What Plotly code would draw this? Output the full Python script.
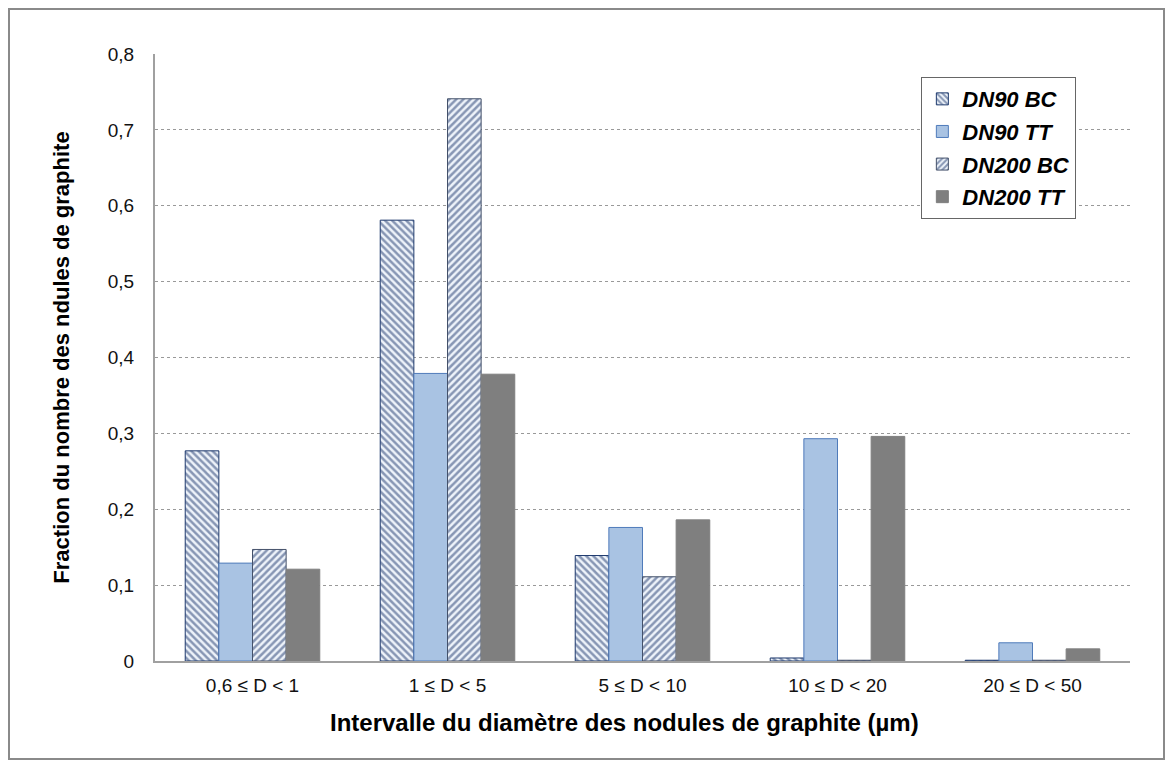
import plotly.graph_objects as go

categories = ["0,6 ≤ D < 1", "1 ≤ D < 5", "5 ≤ D < 10", "10 ≤ D < 20", "20 ≤ D < 50"]
dn90_bc = [0.277, 0.581, 0.139, 0.004, 0.001]
dn90_tt = [0.129, 0.379, 0.176, 0.293, 0.024]
dn200_bc = [0.147, 0.741, 0.111, 0.001, 0.001]
dn200_tt = [0.121, 0.378, 0.186, 0.296, 0.016]
ytick_vals = [0, 0.1, 0.2, 0.3, 0.4, 0.5, 0.6, 0.7, 0.8]
ytick_text = ["0", "0,1", "0,2", "0,3", "0,4", "0,5", "0,6", "0,7", "0,8"]
x_title = "Intervalle du diamètre des nodules de graphite (µm)"
y_title = "Fraction du nombre des ndules de graphite"

navy = "#1F3A6E"
fig = go.Figure()
fig.add_trace(go.Bar(
    x=categories, y=dn90_bc, name="DN90 BC", legendgroup="a",
    marker=dict(color="white", line=dict(color=navy, width=1),
                pattern=dict(shape="\\", fgcolor=navy, bgcolor="#EEF3FA", size=5, solidity=0.5)),
))
fig.add_trace(go.Bar(
    x=categories, y=dn90_tt, name="DN90 TT", legendgroup="b",
    marker=dict(color="#A9C3E3", line=dict(color="#4F7BBA", width=1)),
))
fig.add_trace(go.Bar(
    x=categories, y=dn200_bc, name="DN200 BC", legendgroup="c",
    marker=dict(color="white", line=dict(color="#44516A", width=1),
                pattern=dict(shape="/", fgcolor=navy, bgcolor="#EEF3FA", size=5, solidity=0.5)),
))
fig.add_trace(go.Bar(
    x=categories, y=dn200_tt, name="DN200 TT", legendgroup="d",
    marker=dict(color="#7F7F7F", line=dict(color="#7F7F7F", width=1)),
))

fig.update_layout(
    width=1157, height=752,
    paper_bgcolor="white", plot_bgcolor="white",
    margin=dict(l=147, r=35, t=46, b=99),
    barmode="group", bargap=0.31, bargroupgap=0,
    font=dict(family="Liberation Sans, Arial, sans-serif", size=20, color="#111111"),
    showlegend=True,
    legend=dict(
        x=0.786, y=0.962, xanchor="left", yanchor="top",
        bgcolor="white", bordercolor="#666666", borderwidth=1,
        font=dict(size=22, family="Liberation Sans, Arial, sans-serif", weight="bold", style="italic",
                  color="black"),
        itemwidth=30, tracegroupgap=1,
    ),
    xaxis=dict(
        showline=True, linecolor="#A0A0A0", linewidth=2,
        showgrid=False, ticks="", tickfont=dict(size=19), ticklabelstandoff=6,
    ),
    yaxis=dict(
        range=[0, 0.8], tickvals=ytick_vals, ticktext=ytick_text,
        showline=True, linecolor="#A0A0A0", linewidth=2,
        showgrid=True, gridcolor="#999999", griddash="dot", gridwidth=1,
        ticks="", tickfont=dict(size=19), ticklabelstandoff=15,
        zeroline=False,
        title=dict(text=y_title, font=dict(size=22, weight="bold", color="black"), standoff=32),
    ),
    annotations=[dict(text=x_title, xref="paper", yref="paper", x=0.482, y=0,
                      xanchor="center", yanchor="middle", yshift=-61, showarrow=False,
                      font=dict(size=24, weight="bold", color="black"))],
    shapes=[dict(type="rect", xref="paper", yref="paper",
                 x0=-146 / 975, x1=1 + 34 / 975, y0=-98 / 607, y1=1 + 45 / 607,
                 line=dict(color="#8A8A8A", width=2), fillcolor="rgba(0,0,0,0)", layer="below")],
)

fig.write_html("out.html")
